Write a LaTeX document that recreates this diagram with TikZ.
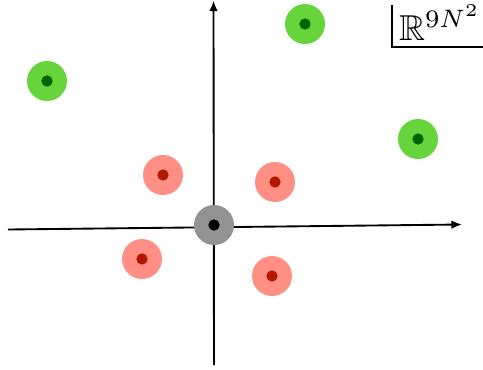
\documentclass[tikz,border=0pt]{standalone}
\usepackage{amssymb}
\usetikzlibrary{arrows.meta}
\definecolor{gring}{HTML}{66D43A}
\definecolor{gdot}{HTML}{006400}
\definecolor{rring}{HTML}{FF8F85}
\definecolor{rdot}{HTML}{B01800}
\definecolor{cring}{HTML}{929292}
\tikzset{
  axis/.style={line width=1.4pt, -{Latex[length=8pt,width=6.5pt]}},
  ring/.style={circle, minimum size=30pt, inner sep=0pt, fill=#1},
  core/.style={circle, minimum size=8.5pt, inner sep=0pt, fill=#1},
}
\begin{document}
\begin{tikzpicture}[x=0.75pt,y=-0.75pt]
\useasboundingbox (0,0) rectangle (483,369);
% axes
\coordinate (xl) at (8,229.5);
\coordinate (xr) at (462,224.5);
\coordinate (yb) at (214,365);
\coordinate (yt) at (213.5,0.5);
\draw[axis] (xl) -- (xr);
\draw[axis] (yb) -- (yt);
% center
\node[ring=cring] (c) at (214,225) {};
\node[core=black] (cc) at (214,225) {};
% green
\foreach \n/\x/\y in {g1/305/24, g2/47/81, g3/418/139}{
  \node[ring=gring] (\n) at (\x,\y) {};
  \node[core=gdot] (\n d) at (\x,\y) {};
}
% red
\foreach \n/\x/\y in {r1/163/175, r2/275/182, r3/142/259, r4/272/276}{
  \node[ring=rring] (\n) at (\x,\y) {};
  \node[core=rdot] (\n d) at (\x,\y) {};
}
% label
\coordinate (lt) at (392,5);
\coordinate (lc) at (392,47);
\coordinate (lr) at (483,47);
\draw[line width=1.4pt] (lt) -- (lc) -- (lr);
\node[inner sep=0pt, anchor=center, scale=2.7] (lab) at (440,23) {$\mathbb{R}^{9N^2}$};
\end{tikzpicture}
\end{document}
